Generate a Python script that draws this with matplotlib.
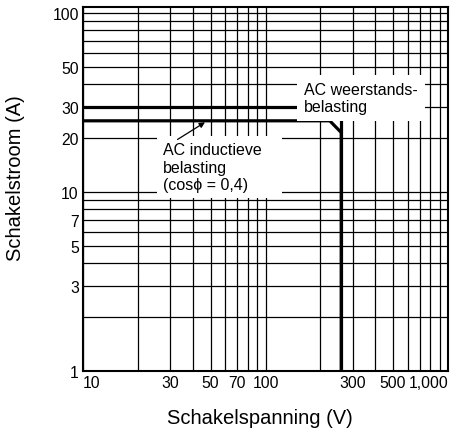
import matplotlib
matplotlib.use("Agg")
import matplotlib.pyplot as plt

plt.rcParams['font.family'] = ['Liberation Sans', 'DejaVu Sans']

# switching voltage (V) / current (A) curves
resistive_v = [10, 260, 260]
resistive_a = [30, 30, 1]
inductive_v = [10, 225, 260, 260]
inductive_a = [25, 25, 21.5, 1]

x_grid = [10, 20, 30, 40, 50, 60, 70, 80, 90, 100,
          200, 300, 400, 500, 600, 700, 800, 900, 1000]
x_labels = {10: '10', 30: '30', 50: '50', 70: '70', 100: '100',
            300: '300', 500: '500', 1000: '1,000'}
y_grid = [1, 2, 3, 4, 5, 6, 7, 8, 9, 10,
          20, 30, 40, 50, 60, 70, 80, 90, 100]
y_labels = {1: '1', 3: '3', 5: '5', 7: '7', 10: '10',
            20: '20', 30: '30', 50: '50', 100: '100'}

fig = plt.figure(figsize=(4.65, 4.39), dpi=100)
ax = fig.add_axes([0.1785, 0.1526, 0.785, 0.829])
ax.set_xscale('log')
ax.set_yscale('log')
ax.set_xlim(10, 1000)
ax.set_ylim(1, 108)

ax.set_xticks(x_grid, [x_labels.get(v, '') for v in x_grid])
ax.set_yticks(y_grid, [y_labels.get(v, '') for v in y_grid])
ax.minorticks_off()
ax.tick_params(length=0, labelsize=11.3, pad=3)
ax.grid(True, color='black', linewidth=0.9)
# keep the corner labels apart like the original
ax.get_xticklabels()[0].set_horizontalalignment('left')
ax.get_xticklabels()[-1].set_horizontalalignment('right')

ax.plot(resistive_v, resistive_a, color='black', linewidth=2.3, zorder=3)
ax.plot(inductive_v, inductive_a, color='black', linewidth=2.3, zorder=3)

ax.text(162, 41, 'AC weerstands-\nbelasting', fontsize=11.5, ha='left', va='top',
        linespacing=1.1, zorder=4,
        bbox=dict(facecolor='white', edgecolor='none', boxstyle='square,pad=0.45'))
ax.text(27.5, 19, 'AC inductieve   \nbelasting\n(cos\u03d5 = 0,4)', fontsize=11.5,
        ha='left', va='top', linespacing=1.2, zorder=4,
        bbox=dict(facecolor='white', edgecolor='none', boxstyle='square,pad=0.4'))
ax.annotate('', xy=(48, 25), xytext=(32, 19.3),
            arrowprops=dict(arrowstyle='-|>', color='black', lw=0.9,
                            mutation_scale=8), zorder=5)

for s in ax.spines.values():
    s.set_linewidth(1.5)

ax.set_xlabel('Schakelspanning (V)', fontsize=14.5)
ax.set_ylabel('Schakelstroom (A)', fontsize=14.5)
ax.xaxis.set_label_coords(0.485, -0.103)
ax.yaxis.set_label_coords(-0.159, 0.533)

fig.savefig('out.png', dpi=100)
